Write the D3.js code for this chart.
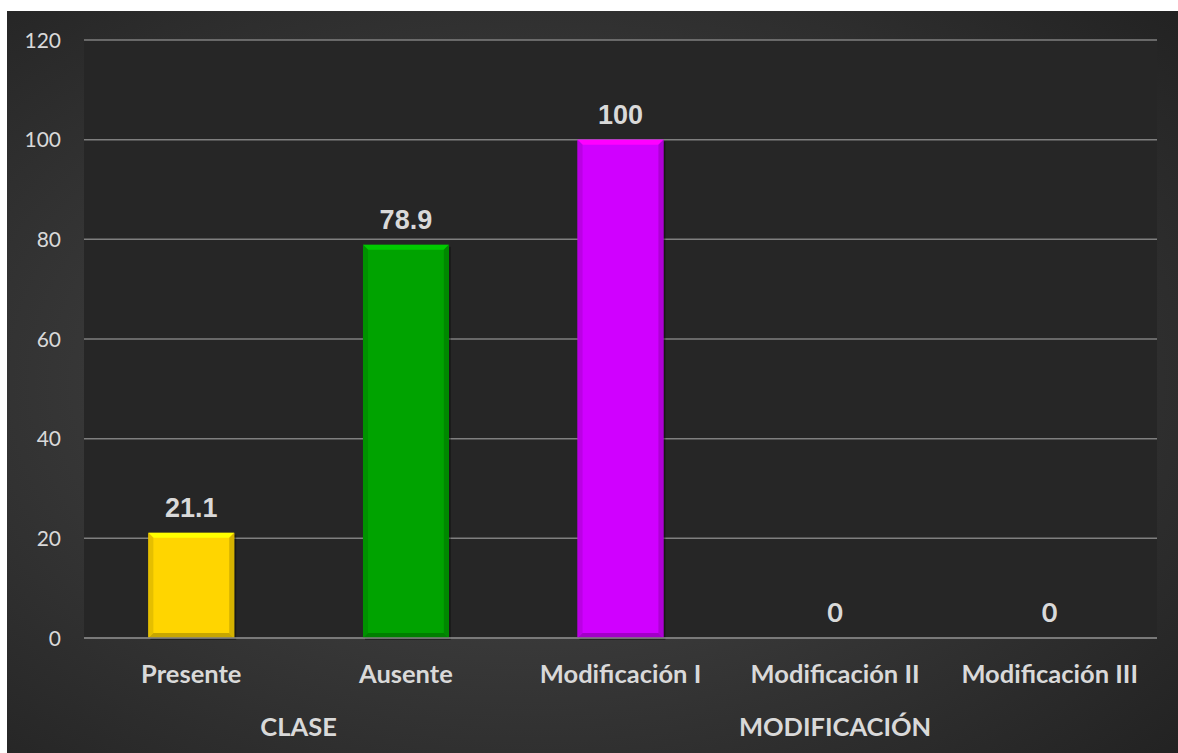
<!DOCTYPE html>
<html>
<head>
<meta charset="utf-8">
<script src="https://cdn.jsdelivr.net/npm/d3@7"></script>
<style>
  html, body { margin: 0; padding: 0; background: #fff; }
  svg { display: block; }
</style>
</head>
<body>
<div id="chart"></div>
<script>
// data
const categories = ['Presente', 'Ausente', 'Modificación I', 'Modificación II', 'Modificación III'];
const values = [21.1, 78.9, 100, 0, 0];
const barColors = ['#ffd500', '#00a300', '#d000ff', '#888888', '#888888'];
const groups = ['CLASE', 'MODIFICACIÓN'];
const groupMembers = [2, 3]; // how many categories each group covers
const yTicks = [0, 20, 40, 60, 80, 100, 120];

const W = 1178, H = 753;
const margin = { top: 40, right: 21, bottom: 115, left: 84 };
const width = W - margin.left - margin.right;
const height = H - margin.top - margin.bottom;

const svg = d3.select('#chart').append('svg')
  .attr('width', W)
  .attr('height', H);

const defs = svg.append('defs');
const bg = defs.append('radialGradient')
  .attr('id', 'bg')
  .attr('cx', '45%').attr('cy', '50%').attr('r', '75%');
bg.append('stop').attr('offset', '0%').attr('stop-color', '#4c4c4c');
bg.append('stop').attr('offset', '100%').attr('stop-color', '#222');

// outer chart area (white strip at top/left as in the picture)
svg.append('rect')
  .attr('x', 7).attr('y', 11)
  .attr('width', W - 7).attr('height', H - 11)
  .attr('fill', 'url(#bg)');

const g = svg.append('g')
  .attr('transform', `translate(${margin.left}, ${margin.top})`);

// plot area
g.append('rect')
  .attr('width', width)
  .attr('height', height)
  .attr('fill', '#262626');

const x = d3.scaleBand().domain(categories).range([0, width]).paddingInner(0.6).paddingOuter(0.3);
const y = d3.scaleLinear().domain([0, 120]).range([height, 0]);

// gridlines
g.append('g')
  .selectAll('line')
  .data(yTicks)
  .enter()
  .append('line')
  .attr('x1', 0)
  .attr('x2', width)
  .attr('y1', d => y(d))
  .attr('y2', d => y(d))
  .attr('stroke', '#7f7f7f')
  .attr('stroke-width', 1.5);

// y tick labels
g.append('g')
  .selectAll('text')
  .data(yTicks)
  .enter()
  .append('text')
  .attr('x', -23)
  .attr('y', d => y(d) + 7.5)
  .attr('text-anchor', 'end')
  .attr('fill', '#d9d9d9')
  .attr('font-family', 'Lato, sans-serif')
  .attr('font-size', 21)
  .attr('style', 'font-variant-numeric: tabular-nums;')
  .text(d => d);

// bars with a bevel look
const bev = 5;
const bars = g.selectAll('.bar')
  .data(values.map((v, i) => ({ cat: categories[i], v: v, c: barColors[i] })).filter(d => d.v > 0))
  .enter()
  .append('g')
  .attr('class', 'bar');

bars.append('rect')
  .attr('x', d => x(d.cat) + 2)
  .attr('y', d => y(d.v) + 2)
  .attr('width', x.bandwidth())
  .attr('height', d => y(0) - y(d.v))
  .attr('fill', '#000')
  .attr('opacity', 0.35);

bars.append('rect')
  .attr('x', d => x(d.cat))
  .attr('y', d => y(d.v))
  .attr('width', x.bandwidth())
  .attr('height', d => y(0) - y(d.v))
  .attr('fill', d => d.c);

// top bevel
bars.append('polygon')
  .attr('points', d => {
    const x0 = x(d.cat), x1 = x0 + x.bandwidth(), y0 = y(d.v);
    return [[x0, y0], [x1, y0], [x1 - bev, y0 + bev], [x0 + bev, y0 + bev]].join(' ');
  })
  .attr('fill', d => d3.color(d.c).brighter(0.6));
// left bevel
bars.append('polygon')
  .attr('points', d => {
    const x0 = x(d.cat), y0 = y(d.v), y1 = y(0);
    return [[x0, y0], [x0 + bev, y0 + bev], [x0 + bev, y1 - bev], [x0, y1]].join(' ');
  })
  .attr('fill', d => d3.color(d.c).darker(0.3));
// right bevel
bars.append('polygon')
  .attr('points', d => {
    const x1 = x(d.cat) + x.bandwidth(), y0 = y(d.v), y1 = y(0);
    return [[x1, y0], [x1 - bev, y0 + bev], [x1 - bev, y1 - bev], [x1, y1]].join(' ');
  })
  .attr('fill', d => d3.color(d.c).darker(0.5));
// bottom bevel
bars.append('polygon')
  .attr('points', d => {
    const x0 = x(d.cat), x1 = x0 + x.bandwidth(), y1 = y(0);
    return [[x0, y1], [x1, y1], [x1 - bev, y1 - bev], [x0 + bev, y1 - bev]].join(' ');
  })
  .attr('fill', d => d3.color(d.c).darker(0.7));

// baseline over the bars
g.append('line')
  .attr('x1', 0).attr('x2', width)
  .attr('y1', y(0)).attr('y2', y(0))
  .attr('stroke', '#7f7f7f')
  .attr('stroke-width', 1.5);

// value labels
g.selectAll('.val')
  .data(values)
  .enter()
  .append('text')
  .attr('class', 'val')
  .attr('x', (d, i) => x(categories[i]) + x.bandwidth() / 2)
  .attr('y', d => y(d) - 16)
  .attr('text-anchor', 'middle')
  .attr('fill', '#d9d9d9')
  .attr('style', d => d === 0
    ? 'font-family: Lato, sans-serif; font-weight: bold; font-size: 27px; font-variant-numeric: tabular-nums;'
    : 'font-family: "Liberation Sans", Arial, sans-serif; font-weight: bold; font-size: 27px;')
  .text(d => d);

// category labels
const labelStyle = 'font-family: Lato, sans-serif; font-weight: bold; font-size: 25.5px;';
g.selectAll('.cat')
  .data(categories)
  .enter()
  .append('text')
  .attr('class', 'cat')
  .attr('x', d => x(d) + x.bandwidth() / 2)
  .attr('y', height + 45)
  .attr('text-anchor', 'middle')
  .attr('fill', '#d9d9d9')
  .attr('style', labelStyle)
  .text(d => d);

// group labels, centred under the categories they cover
let start = 0;
const step = x.step();
const groupPos = groupMembers.map(n => {
  const a = x(categories[start]) - x.paddingInner() * step / 2;
  start += n;
  return a + n * step / 2;
});
g.selectAll('.grp')
  .data(groups)
  .enter()
  .append('text')
  .attr('class', 'grp')
  .attr('x', (d, i) => groupPos[i])
  .attr('y', height + 98)
  .attr('text-anchor', 'middle')
  .attr('fill', '#d9d9d9')
  .attr('style', labelStyle)
  .text(d => d);
</script>
</body>
</html>
